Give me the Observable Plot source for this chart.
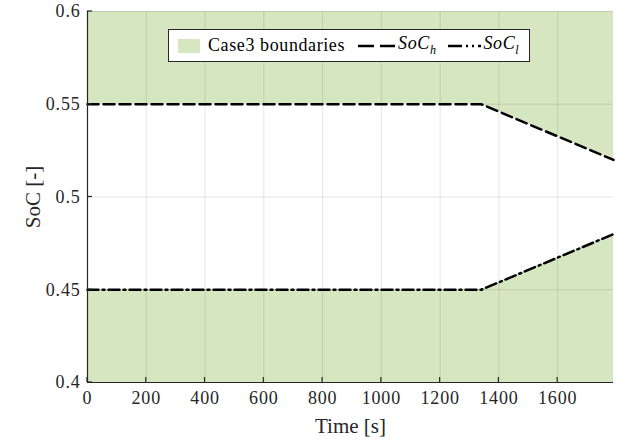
<!DOCTYPE html>
<html>
<head>
<meta charset="utf-8">
<script src="https://cdn.jsdelivr.net/npm/d3@7"></script>
<script src="https://cdn.jsdelivr.net/npm/@observablehq/plot@0.6"></script>
<style>
  html, body { margin: 0; padding: 0; background: #fff; }
  #wrap { position: relative; width: 628px; height: 441px; font-family: "Liberation Serif", "DejaVu Serif", serif; }
  #legend { position: absolute; left: 168px; top: 29px; width: 360px; height: 31px; background: #fff; border: 1px solid #262626;
            display: flex; align-items: center; font-size: 18px; letter-spacing: 0.6px; color: #000; box-sizing: content-box; }
  #legend .sw { display: inline-block; width: 22px; height: 14px; background: #d6e6c1; margin-left: 9px; margin-right: 8px; }
  #legend i sub { font-size: 12px; }
</style>
</head>
<body>
<div id="wrap"></div>
<script>
const time = [0, 1340, 1790];
const socHigh = [0.55, 0.55, 0.52];
const socLow = [0.45, 0.45, 0.48];
const yMin = 0.4, yMax = 0.6;
const xTicks = [0, 200, 400, 600, 800, 1000, 1200, 1400, 1600];
const yTicks = [0.4, 0.45, 0.5, 0.55, 0.6];
const yTickLabels = ["0.4", "0.45", "0.5", "0.55", "0.6"];
const seriesNames = ["Case3 boundaries", "SoC", "h", "l"];

const rows = time.map((t, i) => ({t, hi: socHigh[i], lo: socLow[i]}));
const fillColor = "#d6e6c1";
const axisColor = "#262626";

const chart = Plot.plot({
  width: 628,
  height: 441,
  marginLeft: 87,
  marginRight: 15,
  marginTop: 11,
  marginBottom: 59,
  style: {fontFamily: "'Liberation Serif', 'DejaVu Serif', serif", fontSize: "18px", color: "#262626", background: "#fff"},
  x: {domain: [0, 1790], ticks: xTicks},
  y: {domain: [yMin, yMax], ticks: yTicks},
  marks: [
    Plot.areaY(rows, {x: "t", y1: "hi", y2: () => yMax, fill: fillColor}),
    Plot.areaY(rows, {x: "t", y1: () => yMin, y2: "lo", fill: fillColor}),
    Plot.gridX(xTicks, {stroke: "#000", strokeOpacity: 0.1, strokeWidth: 1}),
    Plot.gridY(yTicks, {stroke: "#000", strokeOpacity: 0.1, strokeWidth: 1}),
    Plot.line(rows, {x: "t", y: "hi", stroke: "#000", strokeWidth: 2.5, strokeDasharray: "11,5"}),
    Plot.line(rows, {x: "t", y: "lo", stroke: "#000", strokeWidth: 2.5, strokeDasharray: "11,4,2,4"}),
    Plot.ruleX([0], {stroke: axisColor, strokeWidth: 1.2}),
    Plot.ruleY([yMin], {stroke: axisColor, strokeWidth: 1.2}),
    Plot.axisX(xTicks, {tickSize: 0, tickPadding: 9, fontSize: 18, fill: "#262626",
      tickFormat: d => String(d),
      label: "Time [s]", labelAnchor: "center", labelArrow: "none", labelOffset: 50}),
    Plot.axisY(yTicks, {tickSize: 0, tickPadding: 7, fontSize: 18, fill: "#262626",
      tickFormat: d => yTickLabels[yTicks.indexOf(d)],
      label: "SoC [-]", labelAnchor: "center", labelArrow: "none", labelOffset: 62})
  ]
});
const svg = d3.select(chart);
// inward tick marks (MATLAB style), positioned by the plot's own scales
const xs = chart.scale("x"), ys = chart.scale("y");
const tg = svg.append("g").attr("stroke", axisColor).attr("stroke-width", 1.2);
xTicks.forEach(v => tg.append("line").attr("x1", xs.apply(v)).attr("x2", xs.apply(v)).attr("y1", ys.apply(yMin)).attr("y2", ys.apply(yMin) - 5));
yTicks.forEach(v => tg.append("line").attr("x1", xs.apply(0)).attr("x2", xs.apply(0) + 5).attr("y1", ys.apply(v)).attr("y2", ys.apply(v)));
svg.selectAll("[aria-label='x-axis tick label'] text, [aria-label='y-axis tick label'] text").style("font-size", "18px").style("letter-spacing", "0.8px");
svg.selectAll("[aria-label='x-axis label'] text, [aria-label='y-axis label'] text").style("font-size", "21px");
document.getElementById("wrap").appendChild(chart);

const legend = document.createElement("div");
legend.id = "legend";
legend.innerHTML = `
  <span class="sw"></span><span>${seriesNames[0]}</span>
  <svg width="40" height="14" style="margin-left:12px"><line x1="1" y1="7" x2="38" y2="7" stroke="#000" stroke-width="2.5" stroke-dasharray="16,6"/></svg>
  <span style="margin-left:1px"><i>${seriesNames[1]}<sub>${seriesNames[2]}</sub></i></span>
  <svg width="36" height="14" style="margin-left:10px"><line x1="1" y1="7" x2="34" y2="7" stroke="#000" stroke-width="2.5" stroke-dasharray="14,4,2,4,2,4"/></svg>
  <span style="margin-left:1px"><i>${seriesNames[1]}<sub>${seriesNames[3]}</sub></i></span>`;
document.getElementById("wrap").appendChild(legend);
</script>
</body>
</html>
